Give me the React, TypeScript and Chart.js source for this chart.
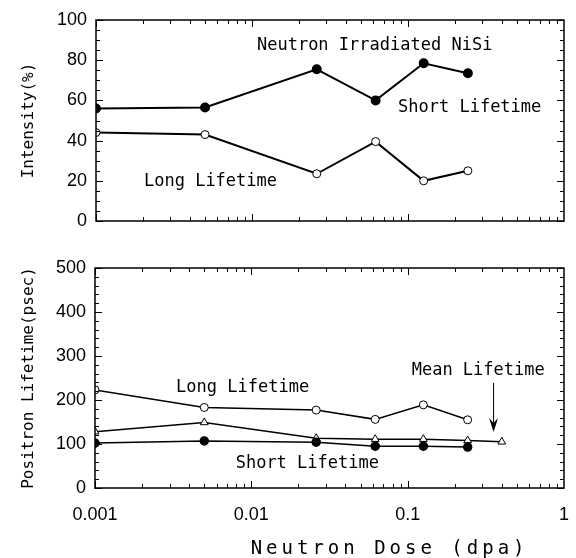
import React, { useEffect, useRef } from 'react';
import { Chart, registerables } from 'chart.js';

Chart.register(...registerables);

// ---- data ----
const doses = [0.001, 0.005, 0.026, 0.062, 0.126, 0.242];
const shortIntensity = [56, 56.5, 75.5, 60, 78.5, 73.5];
const longIntensity = [44, 43, 23.5, 39.5, 20, 25];
const longLifetime = [223, 183, 177, 156, 189, 155];
const shortLifetime = [102, 107, 104, 95, 95, 93];
const meanDoses = [0.001, 0.005, 0.026, 0.062, 0.126, 0.242, 0.4];
const meanLifetime = [128, 149, 113, 111, 111, 108, 105];
const doseTicks = [0.001, 0.01, 0.1, 1];
const intensityTicks = [0, 20, 40, 60, 80, 100];
const lifetimeTicks = [0, 100, 200, 300, 400, 500];

const MONO = '"DejaVu Sans Mono", "Liberation Mono", monospace';
const SANS = '"Liberation Sans", Arial, sans-serif';

const pts = (xs: number[], ys: number[]) => xs.map((x, i) => ({ x, y: ys[i] }));

type Txt = { text: string; x: number; y: number };

const zeroPad = (s: any) => {
  s.paddingLeft = 0;
  s.paddingRight = 0;
  s.paddingTop = 0;
  s.paddingBottom = 0;
};

function framePlugin(yMinor: number, yMajor: number) {
  return {
    id: 'frame',
    afterDatasetsDraw(chart: any) {
      const { ctx, chartArea: a, scales } = chart;
      const xs = scales.x;
      const ys = scales.y;
      ctx.save();
      ctx.strokeStyle = '#000';
      ctx.lineWidth = 1;
      ctx.beginPath();
      for (let e = -3; e < 0; e++) {
        for (let m = 1; m < 10; m++) {
          const v = m * Math.pow(10, e);
          const px = Math.round(xs.getPixelForValue(v)) + 0.5;
          const len = m === 1 ? 7 : 4;
          ctx.moveTo(px, a.bottom);
          ctx.lineTo(px, a.bottom - len);
          ctx.moveTo(px, a.top);
          ctx.lineTo(px, a.top + len);
        }
      }
      for (let v = ys.min; v <= ys.max + 1e-9; v += yMinor) {
        const py = Math.round(ys.getPixelForValue(v)) + 0.5;
        const len = Math.abs(v % yMajor) < 1e-9 ? 7 : 4;
        ctx.moveTo(a.left, py);
        ctx.lineTo(a.left + len, py);
        ctx.moveTo(a.right, py);
        ctx.lineTo(a.right - len, py);
      }
      ctx.stroke();
      ctx.lineWidth = 1.5;
      ctx.strokeRect(a.left, a.top, a.right - a.left, a.bottom - a.top);
      ctx.restore();
    },
  };
}

function textPlugin(
  texts: Txt[],
  arrow?: { x: number; y1: number; y2: number },
  xTitle?: { text: string; x: number; baseline: number }
) {
  return {
    id: 'texts',
    afterDraw(chart: any) {
      const { ctx, scales } = chart;
      const xs = scales.x;
      const ys = scales.y;
      ctx.save();
      ctx.fillStyle = '#000';
      ctx.font = '17px ' + MONO;
      ctx.textAlign = 'left';
      ctx.textBaseline = 'alphabetic';
      for (const t of texts) {
        ctx.fillText(t.text, xs.getPixelForValue(t.x), ys.getPixelForValue(t.y));
      }
      if (arrow) {
        const px = xs.getPixelForValue(arrow.x);
        const p1 = ys.getPixelForValue(arrow.y1);
        const p2 = ys.getPixelForValue(arrow.y2);
        ctx.strokeStyle = '#000';
        ctx.lineWidth = 1;
        ctx.beginPath();
        ctx.moveTo(px, p1);
        ctx.lineTo(px, p2 - 6);
        ctx.stroke();
        ctx.beginPath();
        ctx.moveTo(px, p2);
        ctx.lineTo(px - 4.5, p2 - 14);
        ctx.lineTo(px, p2 - 9);
        ctx.lineTo(px + 4.5, p2 - 14);
        ctx.closePath();
        ctx.fill();
      }
      if (xTitle) {
        ctx.font = '19px ' + MONO;
        (ctx as any).letterSpacing = '4px';
        ctx.fillText(xTitle.text, xs.getPixelForValue(xTitle.x), xTitle.baseline);
      }
      ctx.restore();
    },
  };
}

function baseX(showTicks: boolean, height: number) {
  return {
    type: 'logarithmic',
    min: 0.001,
    max: 1,
    grid: { display: false, drawTicks: false },
    border: { display: false },
    afterBuildTicks: (s: any) => {
      s.ticks = doseTicks.map((v) => ({ value: v }));
    },
    afterFit: (s: any) => {
      s.height = height;
      zeroPad(s);
    },
    ticks: {
      display: showTicks,
      autoSkip: false,
      maxRotation: 0,
      padding: 16,
      color: '#000',
      font: { family: SANS, size: 18 },
      callback: (v: any) => String(v),
    },
  };
}

export default function App() {
  const topRef = useRef<HTMLCanvasElement>(null);
  const botRef = useRef<HTMLCanvasElement>(null);

  useEffect(() => {
    const top = new Chart(topRef.current as HTMLCanvasElement, {
      type: 'line',
      data: {
        datasets: [
          {
            data: pts(doses, shortIntensity),
            borderColor: '#000',
            borderWidth: 2,
            pointRadius: 4,
            pointBackgroundColor: '#000',
            pointBorderColor: '#000',
            tension: 0,
          },
          {
            data: pts(doses, longIntensity),
            borderColor: '#000',
            borderWidth: 2,
            pointRadius: 4,
            pointBorderWidth: 1,
            pointBackgroundColor: '#fff',
            pointBorderColor: '#000',
            tension: 0,
          },
        ],
      },
      options: {
        animation: false,
        responsive: false,
        events: [],
        layout: { padding: { left: 0, right: 12, top: 20, bottom: 0 } },
        plugins: { legend: { display: false }, tooltip: { enabled: false } },
        scales: {
          x: baseX(false, 558 - 221) as any,
          y: {
            min: 0,
            max: 100,
            grid: { display: false, drawTicks: false },
            border: { display: false },
            afterBuildTicks: (s: any) => {
              s.ticks = intensityTicks.map((v) => ({ value: v }));
            },
            afterFit: (s: any) => {
              s.width = 96;
              zeroPad(s);
            },
            ticks: { padding: 9, color: '#000', font: { family: SANS, size: 18 } },
            title: {
              display: true,
              text: 'Intensity(%)',
              color: '#000',
              font: { family: MONO, size: 16 },
              padding: { top: 19, bottom: 0 },
            },
          },
        },
      },
      plugins: [
        framePlugin(5, 20),
        textPlugin([
          { text: 'Neutron Irradiated NiSi', x: 0.01076, y: 85.1 },
          { text: 'Short Lifetime', x: 0.0863, y: 54.4 },
          { text: 'Long Lifetime', x: 0.00203, y: 17.4 },
        ]),
      ],
    } as any);

    const bot = new Chart(botRef.current as HTMLCanvasElement, {
      type: 'line',
      data: {
        datasets: [
          {
            data: pts(doses, shortLifetime),
            borderColor: '#000',
            borderWidth: 1.5,
            pointRadius: 4,
            pointBackgroundColor: '#000',
            pointBorderColor: '#000',
            tension: 0,
          },
          {
            data: pts(meanDoses, meanLifetime),
            borderColor: '#000',
            borderWidth: 1.5,
            pointStyle: 'triangle',
            pointRadius: 4.5,
            pointBorderWidth: 1,
            pointBackgroundColor: '#fff',
            pointBorderColor: '#000',
            tension: 0,
          },
          {
            data: pts(doses, longLifetime),
            borderColor: '#000',
            borderWidth: 1.5,
            pointRadius: 4,
            pointBorderWidth: 1,
            pointBackgroundColor: '#fff',
            pointBorderColor: '#000',
            tension: 0,
          },
        ],
      },
      options: {
        animation: false,
        responsive: false,
        events: [],
        layout: { padding: { left: 0, right: 12, top: 268, bottom: 0 } },
        plugins: { legend: { display: false }, tooltip: { enabled: false } },
        scales: {
          x: baseX(true, 558 - 488) as any,
          y: {
            min: 0,
            max: 500,
            grid: { display: false, drawTicks: false },
            border: { display: false },
            afterBuildTicks: (s: any) => {
              s.ticks = lifetimeTicks.map((v) => ({ value: v }));
            },
            afterFit: (s: any) => {
              s.width = 95;
              zeroPad(s);
            },
            ticks: { padding: 9, color: '#000', font: { family: SANS, size: 18 } },
            title: {
              display: true,
              text: 'Positron Lifetime(psec)',
              color: '#000',
              font: { family: MONO, size: 16 },
              padding: { top: 19, bottom: 0 },
            },
          },
        },
      },
      plugins: [
        framePlugin(20, 100),
        textPlugin(
          [
            { text: 'Long Lifetime', x: 0.0033, y: 218 },
            { text: 'Short Lifetime', x: 0.00794, y: 45.5 },
            { text: 'Mean Lifetime', x: 0.1061, y: 256 },
          ],
          { x: 0.3544, y1: 238.6, y2: 127.3 },
          { text: 'Neutron Dose (dpa)', x: 0.0099, baseline: 554 }
        ),
      ],
    } as any);

    return () => {
      top.destroy();
      bot.destroy();
    };
  }, []);

  return (
    <div style={{ position: 'fixed', left: 0, top: 0, width: 576, height: 558, background: '#fff' }}>
      <canvas ref={topRef} width={576} height={558} style={{ position: 'absolute', left: 0, top: 0 }} />
      <canvas ref={botRef} width={576} height={558} style={{ position: 'absolute', left: 0, top: 0 }} />
    </div>
  );
}
